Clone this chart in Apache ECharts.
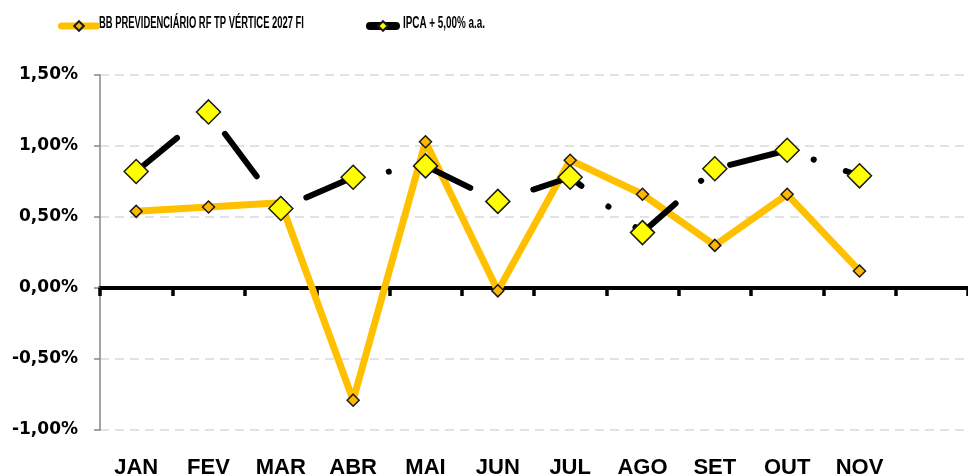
<!DOCTYPE html>
<html>
<head>
<meta charset="utf-8">
<script src="https://cdn.jsdelivr.net/npm/echarts@6/dist/echarts.min.js"></script>
<style>
  html, body { margin: 0; background: #fff; }
  #chart { width: 968px; height: 475px; }
</style>
</head>
<body>
<div id="chart"></div>
<script>
// dados (% ao mês)
const months = ['JAN', 'FEV', 'MAR', 'ABR', 'MAI', 'JUN', 'JUL', 'AGO', 'SET', 'OUT', 'NOV', ''];
const fundName = 'BB PREVIDENCIÁRIO RF TP VÉRTICE 2027 FI';
const benchName = 'IPCA + 5,00% a.a.';
const fundValues = [0.54, 0.57, 0.60, -0.79, 1.03, -0.02, 0.90, 0.66, 0.30, 0.66, 0.12, null];
const benchValues = [0.82, 1.24, 0.56, 0.78, 0.86, 0.61, 0.78, 0.39, 0.84, 0.97, 0.79, null];
const yMin = -1, yMax = 1.5, yStep = 0.5;

const font = "'Liberation Sans', Arial, sans-serif";
const pct = v => v.toFixed(2).replace('.', ',') + '%';

const chart = echarts.init(document.getElementById('chart'));

// legenda: ícones pelo componente legend, nomes como texto estreito (o original é comprimido)
const legendIcons = (name, left, width, lineWidth) => ({
  data: [name], left: left, top: 15, itemWidth: width, itemHeight: 12,
  formatter: () => '', selectedMode: false,
  textStyle: {fontSize: 12},
  lineStyle: {type: 'solid', width: lineWidth, cap: 'round'}
});
const legendLabel = (name, x, sx) => ({
  type: 'text', x: x, y: 24, scaleX: sx, silent: true,
  style: {text: name, font: 'bold 16px ' + font, fill: '#000', verticalAlign: 'middle'}
});

chart.setOption({
  animation: false,
  legend: [
    legendIcons(fundName, 53, 35, 7),
    legendIcons(benchName, 361, 26, 8)
  ],
  graphic: [
    legendLabel(fundName, 99, 0.588),
    legendLabel(benchName, 403, 0.617)
  ],
  grid: {left: 100, right: 0, top: 75, bottom: 45, outerBoundsMode: 'none'},
  xAxis: [
    {
      type: 'category', data: months, position: 'bottom',
      axisLine: {show: false, onZero: false},
      axisTick: {show: false},
      axisLabel: {
        interval: 0, margin: 27, color: '#000',
        fontFamily: font, fontWeight: 'bold', fontSize: 22
      }
    },
    {
      type: 'category', data: months, position: 'bottom',
      axisLine: {onZero: true, lineStyle: {color: '#000', width: 4}},
      axisTick: {show: true, interval: 0, length: 8, lineStyle: {color: '#000', width: 3.5}},
      axisLabel: {show: false}
    }
  ],
  yAxis: {
    type: 'value', min: yMin, max: yMax, interval: yStep,
    axisLine: {show: true, lineStyle: {color: '#868686', width: 1.5}},
    axisTick: {show: true, length: 6, lineStyle: {color: '#868686', width: 1.5}},
    axisLabel: {
      formatter: pct, margin: 22, color: '#000',
      fontFamily: 'DejaVu Sans', fontWeight: 'bold', fontSize: 17
    },
    splitLine: {lineStyle: {color: '#d9d9d9', width: 1.5, type: [9, 6]}}
  },
  series: [
    {
      name: fundName, type: 'line', data: fundValues,
      symbol: 'diamond', symbolSize: 12, showAllSymbol: true,
      lineStyle: {color: '#FFC000', width: 7, cap: 'round', join: 'round'},
      itemStyle: {color: '#FFB800', borderColor: '#1a1a1a', borderWidth: 1.5}
    },
    {
      name: benchName, type: 'line', data: benchValues,
      symbol: 'diamond', symbolSize: 24, showAllSymbol: true,
      lineStyle: {color: '#000', width: 6, cap: 'round', join: 'round', type: [53, 34, 0.1, 34]},
      itemStyle: {color: '#FFFF00', borderColor: '#1a1a1a', borderWidth: 1.5}
    }
  ]
});
</script>
</body>
</html>
